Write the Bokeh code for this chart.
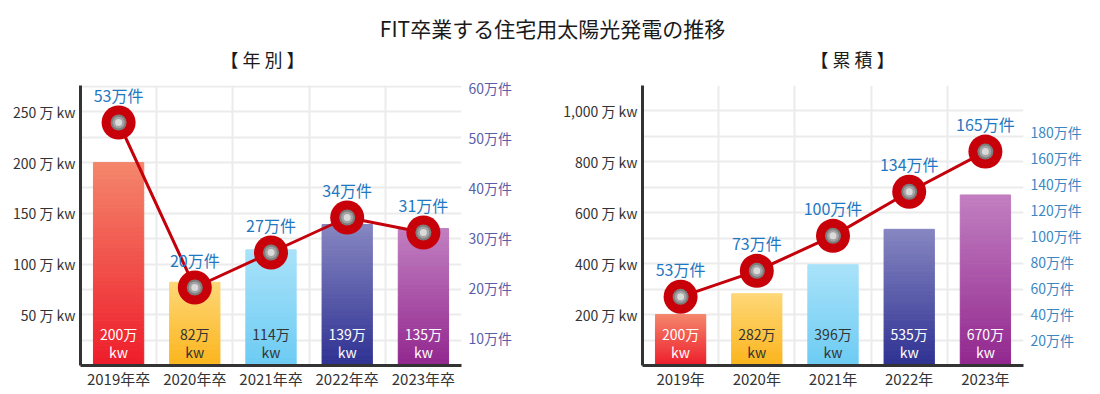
import numpy as np
from bokeh.plotting import figure
from bokeh.models import (Range1d, LinearAxis, FixedTicker, PrintfTickFormatter,
                          CustomJSTickFormatter)
from bokeh.layouts import column, row
from bokeh.core.properties import value
from bokeh.embed import file_html
from bokeh.resources import INLINE

# ---------------- data ----------------
title_text = "FIT卒業する住宅用太陽光発電の推移"
sub_annual = "【 年 別 】"
sub_cumul = "【 累 積 】"

annual_cats = ["2019年卒", "2020年卒", "2021年卒", "2022年卒", "2023年卒"]
annual_kw = [200, 82, 114, 139, 135]          # 万kW
annual_cnt = [53, 20, 27, 34, 31]             # 万件

cumul_cats = ["2019年", "2020年", "2021年", "2022年", "2023年"]
cumul_kw = [200, 282, 396, 535, 670]          # 万kW
cumul_cnt = [53, 73, 100, 134, 165]           # 万件

annual_kw_ticks = [50, 100, 150, 200, 250]
annual_cnt_ticks = [10, 20, 30, 40, 50, 60]
cumul_kw_ticks = [200, 400, 600, 800, 1000]
cumul_cnt_ticks = [20, 40, 60, 80, 100, 120, 140, 160, 180]

# ---------------- styles ----------------
FONT = "Noto Sans CJK JP"
bar_top_colors = ["#f4866c", "#fed777", "#a9e2f9", "#8686c1", "#c17fc0"]
bar_bot_colors = ["#ee1c2a", "#fbb41c", "#6ccbf3", "#2e3192", "#92278f"]
bar_text_colors = ["#ffffff", "#333333", "#333333", "#ffffff", "#ffffff"]
N_SLICES = 50


def hex2rgb(h):
    h = h.lstrip("#")
    return np.array([int(h[i:i + 2], 16) for i in (0, 2, 4)], dtype=float)


def rgb2hex(c):
    return "#%02x%02x%02x" % tuple(int(round(x)) for x in c)


def make_chart(cats, kw, cnt, kw_ticks, kw_grid_step, kw_max, cnt_range,
               cnt_ticks, cnt_color, kw_fmt, border_left, border_right):
    n = len(cats)
    xs = list(range(n))
    p = figure(frame_width=381, frame_height=280,
               x_range=Range1d(-0.5, n - 0.5), y_range=Range1d(0, kw_max),
               output_backend="svg", toolbar_location=None,
               min_border_left=border_left, min_border_right=border_right,
               min_border_top=10, min_border_bottom=26)
    p.extra_y_ranges = {"cnt": Range1d(*cnt_range)}
    p.outline_line_color = None
    p.background_fill_color = "#ffffff"
    p.border_fill_color = "#ffffff"

    # gradient bars (stacked slices computed from each bar value)
    xs_s, bots, tops, cols = [], [], [], []
    for i, v in enumerate(kw):
        ct, cb = hex2rgb(bar_top_colors[i]), hex2rgb(bar_bot_colors[i])
        for k in range(N_SLICES):
            f = (k + 0.5) / N_SLICES
            bots.append(v * k / N_SLICES)
            tops.append(v * (k + 1) / N_SLICES)
            xs_s.append(xs[i])
            cols.append(rgb2hex(cb + (ct - cb) * f))
    p.vbar(x=xs_s, width=0.66, bottom=bots, top=tops, fill_color=cols,
           line_color=cols, line_width=1)

    # value labels inside bars
    lab = [f"{v}万\nkw" for v in kw]
    p.text(x=xs, y=[0] * n, text=lab, text_align="center",
           text_baseline="bottom", y_offset=-4,
           text_font=value(FONT), text_font_size="14px",
           text_color=bar_text_colors, text_line_height=0.9)

    # count line + markers
    p.line(xs, cnt, y_range_name="cnt", line_color="#c4000b", line_width=3)
    p.scatter(xs, cnt, y_range_name="cnt", size=34, fill_color="#c8000a",
              line_color=None)
    p.scatter(xs, cnt, y_range_name="cnt", size=16, fill_color="#7d7d7d",
              line_color=None)
    p.scatter(xs, cnt, y_range_name="cnt", size=12, fill_color="#a3a3a3",
              line_color=None)
    p.scatter(xs, cnt, y_range_name="cnt", size=7, fill_color="#dadada",
              line_color=None)
    p.text(x=xs, y=cnt, text=[f"{c}万件" for c in cnt], y_range_name="cnt",
           text_align="center", text_baseline="middle", y_offset=-28,
           text_font=value(FONT), text_font_size="16px",
           text_color="#1f78c1")

    # axes
    p.xaxis.ticker = FixedTicker(ticks=xs)
    p.xaxis.major_label_overrides = {i: c for i, c in enumerate(cats)}
    p.xaxis.major_tick_line_color = None
    p.xaxis.minor_tick_line_color = None
    p.xaxis.major_tick_out = 0
    p.xaxis.major_tick_in = 0
    p.xaxis.axis_line_color = "#333333"
    p.xaxis.axis_line_width = 3
    p.xaxis.major_label_text_font = FONT
    p.xaxis.major_label_text_font_size = "15px"
    p.xaxis.major_label_text_color = "#333333"
    p.xaxis.major_label_standoff = 2

    p.yaxis.ticker = FixedTicker(ticks=kw_ticks)
    p.yaxis.formatter = kw_fmt
    p.yaxis.major_tick_line_color = None
    p.yaxis.minor_tick_line_color = None
    p.yaxis.major_tick_out = 0
    p.yaxis.major_tick_in = 0
    p.yaxis.axis_line_color = "#333333"
    p.yaxis.axis_line_width = 3
    p.yaxis.major_label_text_font = FONT
    p.yaxis.major_label_text_font_size = "14px"
    p.yaxis.major_label_text_color = "#333333"
    p.yaxis.major_label_standoff = 5

    ax2 = LinearAxis(y_range_name="cnt", ticker=FixedTicker(ticks=cnt_ticks),
                     formatter=PrintfTickFormatter(format="%d万件"))
    ax2.axis_line_color = None
    ax2.major_tick_line_color = None
    ax2.minor_tick_line_color = None
    ax2.major_tick_out = 0
    ax2.major_tick_in = 0
    ax2.major_label_text_font = FONT
    ax2.major_label_text_font_size = "14px"
    ax2.major_label_text_color = cnt_color
    ax2.major_label_standoff = 7
    p.add_layout(ax2, "right")

    # grids
    p.xgrid.ticker = FixedTicker(ticks=[i + 0.5 for i in range(n)])
    p.xgrid.grid_line_color = "#ebebeb"
    p.xgrid.grid_line_width = 2
    p.ygrid.ticker = FixedTicker(ticks=list(np.arange(kw_grid_step, kw_max + 1, kw_grid_step)))
    p.ygrid.grid_line_color = "#ebebeb"
    p.ygrid.grid_line_width = 2
    return p


p1 = make_chart(annual_cats, annual_kw, annual_cnt, annual_kw_ticks, 25, 276,
                (4.4, 60.4), annual_cnt_ticks, "#5a5ea8",
                PrintfTickFormatter(format="%d 万 kw"), 80, 99)
p2 = make_chart(cumul_cats, cumul_kw, cumul_cnt, cumul_kw_ticks, 100, 1100,
                (0, 216), cumul_cnt_ticks, "#3a87c4",
                CustomJSTickFormatter(code="return tick.toLocaleString('en-US') + ' 万 kw';"),
                78, 79)

# header with titles
hdr = figure(frame_width=1100, frame_height=75, x_range=Range1d(0, 1100),
             y_range=Range1d(0, 75), output_backend="svg", toolbar_location=None,
             min_border=0)
hdr.axis.visible = False
hdr.grid.visible = False
hdr.outline_line_color = None
hdr.text(x=[552], y=[48], text=[title_text], text_align="center",
         text_baseline="middle", text_font=value(FONT), text_font_size="21px",
         text_color="#1a1a1a")
hdr.text(x=[262, 852], y=[17, 17], text=[sub_annual, sub_cumul],
         text_align="center", text_baseline="middle", text_font=value(FONT),
         text_font_size="18px", text_color="#1a1a1a")

layout = column(hdr, row(p1, p2, spacing=0), spacing=0)
open("out.html", "w").write(file_html(layout, INLINE))
